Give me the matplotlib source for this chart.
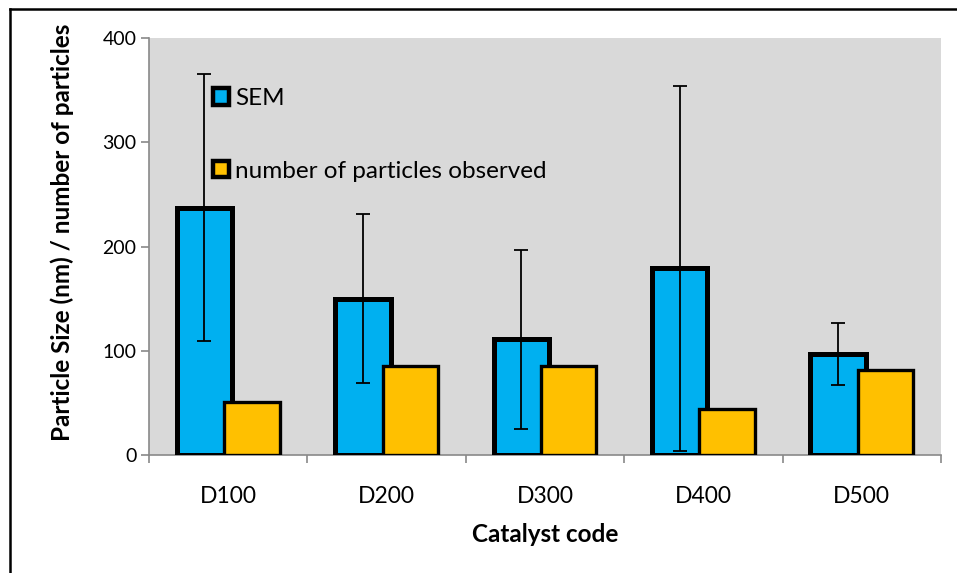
import matplotlib
matplotlib.use("Agg")
import matplotlib.pyplot as plt
import numpy as np
from matplotlib.patches import Patch
from matplotlib.lines import Line2D

catalysts = ["D100", "D200", "D300", "D400", "D500"]
sem_size = [237, 150, 111, 179, 97]
sem_err = [128, 81, 86, 175, 30]
particles_observed = [51, 85, 85, 44, 82]

plt.rcParams["font.family"] = ["Lato", "DejaVu Sans"]

fig = plt.figure(figsize=(9.57, 5.73), dpi=100)
ax = fig.add_axes([149 / 957, 1 - 455 / 573, (941 - 149) / 957, (455 - 38) / 573])
ax.set_facecolor("#D9D9D9")

x = np.arange(len(catalysts))
w = 0.35
off = 0.15

ax.bar(x - off, sem_size, width=w, color="#00B0F0", edgecolor="black",
       linewidth=3.6, zorder=2, label="SEM")
ax.errorbar(x - off, sem_size, yerr=sem_err, fmt="none", ecolor="black",
            elinewidth=1.3, capsize=5, capthick=1.3, zorder=3)
ax.bar(x + off, particles_observed, width=w, color="#FFC000", edgecolor="black",
       linewidth=2.4, zorder=4, label="number of particles observed")

ax.set_xlim(-0.5, len(catalysts) - 0.5)
ax.set_ylim(0, 400)
ax.set_yticks([0, 100, 200, 300, 400])
ax.set_xticks(x)
ax.set_xticklabels(catalysts)
ax.set_xticks(np.arange(-0.5, len(catalysts)), minor=True)
ax.tick_params(axis="x", which="major", length=0, pad=22, labelsize=16.5)
ax.tick_params(axis="x", which="minor", length=6, color="#898989", width=1.2)
ax.tick_params(axis="y", length=6, color="#898989", width=1.2, labelsize=14, pad=3)

for side in ("top", "right"):
    ax.spines[side].set_visible(False)
for side in ("left", "bottom"):
    ax.spines[side].set_color("#898989")
    ax.spines[side].set_linewidth(1.2)
    ax.spines[side].set_zorder(1)

ax.set_xlabel("Catalyst code", fontsize=17.5, fontweight="bold", labelpad=12)
ax.set_ylabel("Particle Size (nm) / number of particles", fontsize=17.5,
              fontweight="bold")
ax.yaxis.set_label_coords(-0.095, 0.535)

handles = [
    Patch(facecolor="#00B0F0", edgecolor="black", linewidth=3.2),
    Patch(facecolor="#FFC000", edgecolor="black", linewidth=3.2),
]
leg = ax.legend(handles, ["SEM", "number of particles observed"],
                loc="upper left", bbox_to_anchor=(0.063, 0.915), frameon=False,
                fontsize=17.5, handlelength=0.65, handleheight=0.65,
                handletextpad=0.25, labelspacing=2.12, borderaxespad=0.2)

# outer frame lines along the left and top edges of the figure
fig.add_artist(Line2D([10 / 957, 10 / 957], [0, 1 - 9 / 573],
                      transform=fig.transFigure, color="black", linewidth=1.8))
fig.add_artist(Line2D([10 / 957, 1], [1 - 9 / 573, 1 - 9 / 573],
                      transform=fig.transFigure, color="black", linewidth=1.8))

fig.savefig("out.png", dpi=100)
